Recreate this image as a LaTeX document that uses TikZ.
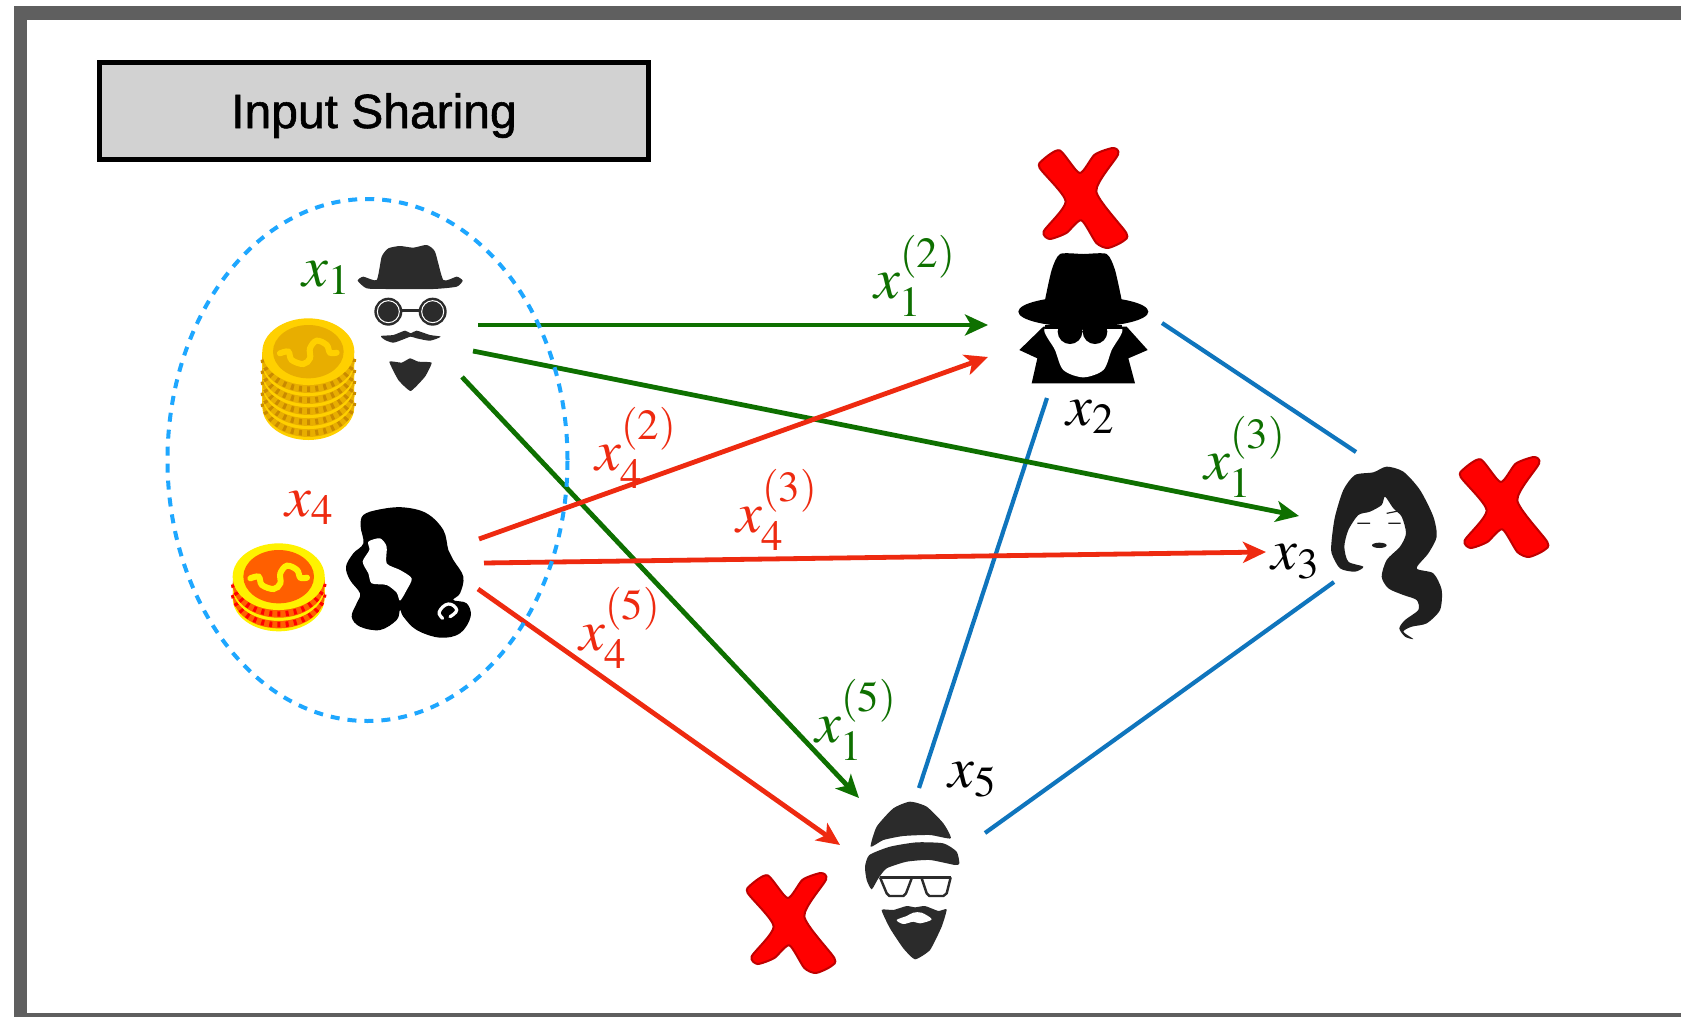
\documentclass[tikz,border=0pt]{standalone}
\usepackage{mathptmx}
\usepackage{fontspec}
\newfontfamily\titlefont[FakeBold=1.2]{Liberation Sans}
\usetikzlibrary{positioning, shapes.geometric, arrows.meta}
\definecolor{sharegreen}{HTML}{0E7000}
\definecolor{sharered}{HTML}{EE2A10}
\definecolor{linkblue}{HTML}{0F75BD}
\definecolor{ringblue}{HTML}{1EA7FF}
\definecolor{framegray}{HTML}{5F5F5F}
\definecolor{titlegray}{HTML}{D2D2D2}
\definecolor{darkfig}{HTML}{2B2B2B}
\definecolor{crossrim}{HTML}{C00000}
\definecolor{goldrim}{HTML}{FFD000}
\definecolor{goldface}{HTML}{E8AE00}
\definecolor{goldstripe}{HTML}{C98A00}
\definecolor{redface}{HTML}{FF5F00}
\tikzset{
    fine/.style={x=0.16667pt, y=-0.16667pt},
    title/.style={rectangle, draw=black, fill=titlegray, line width=2.5pt, minimum width=274.5pt, minimum height=48.5pt, text height=17pt, text depth=0pt, font=\titlefont\fontsize{24}{28}\selectfont},
    party/.style={inner sep=0pt, font=\fontsize{29}{32}\selectfont},
    greentext/.style={party, text=sharegreen},
    redtext/.style={party, text=sharered},
    blacktext/.style={party, text=black},
    greenarrow/.style={draw=sharegreen, line width=2.4pt, -{Stealth[length=11.5pt, width=10.5pt, inset=3pt]}},
    redarrow/.style={draw=sharered, line width=2.4pt, -{Stealth[length=11.5pt, width=10.5pt, inset=3pt]}},
    bluelink/.style={draw=linkblue, line width=2.1pt},
    honest/.style={ellipse, draw=ringblue, line width=2pt, dash pattern=on 4.5pt off 4pt, minimum width=200pt, minimum height=261pt, inner sep=0pt},
    redcross/.pic={
        \draw[fine, fill=red, draw=crossrim, line width=1pt, line join=round] plot[smooth cycle, tension=0.4] coordinates {
            (62,7) (122,75) (167,20) (222,0) (237,20) (172,130) (262,255) (252,280)
            (207,300) (172,285) (127,217) (82,255) (32,273) (14,250) (80,160) (2,60) (12,35)};
    },
}
% stack of coins: centre x, centre y, layers, step, rim, face, side, stripe
\newcommand{\coinstack}[8]{
    \foreach \i in {#3} {
        \pgfmathsetmacro{\yy}{#2+\i*#4}
        \fill[#5] (#1-138,\yy) rectangle (#1+138,\yy+#4);
        \fill[#5] (#1,\yy+#4) ellipse [x radius=138, y radius=100];
        \fill[#7] (#1,\yy+#4*0.72) ellipse [x radius=138, y radius=100];
        \draw[#8, line width=#4*0.085pt, dash pattern=on 1.5pt off 2.6pt] plot[domain=5:175, samples=30] ({#1+136*cos(\x)},{\yy+#4*0.38+100*sin(\x)});
        \fill[#5] (#1,\yy) ellipse [x radius=138, y radius=100];
    }
    \fill[#6] (#1,#2) ellipse [x radius=106, y radius=80];
    \draw[#5, line width=3pt, line cap=round] plot[smooth, tension=0.6] coordinates {
        (#1-85,#2+5) (#1-60,#2) (#1-50,#2+25) (#1-15,#2+37) (#1+5,#2+20) (#1+5,#2-10) (#1+25,#2-33) (#1+55,#2-20) (#1+65,#2+3) (#1+85,#2+3)};
}
\begin{document}
\begin{tikzpicture}[x=0.5pt, y=-0.5pt]
    \useasboundingbox (0,0) rectangle (1681,1017);
    \fill[white] (0,0) rectangle (1681,1017);
    \fill[framegray] (14,6) rectangle (1681,1017);
    \fill[white] (27,20) rectangle (1681,1013);

    \node [title] (head) at (374,111) {Input Sharing};

    % first party with coins
    \begin{scope}[shift={(200,220)}, fine]
        \coinstack{325}{395}{4,3,2,1,0}{33}{goldrim}{goldface}{goldface}{goldstripe}
        \fill[darkfig] plot[smooth cycle, tension=0.35] coordinates {
            (473,182) (490,170) (530,180) (545,110) (565,85) (600,78) (640,83) (680,75) (705,95)
            (730,180) (770,170) (788,182) (770,200) (700,207) (560,207) (500,205)};
        \fill[darkfig] (565,275) circle [radius=42] (698,275) circle [radius=42];
        \draw[darkfig, line width=1.3pt] (605,272) -- (660,272);
        \draw[white, line width=0.5pt] (565,275) circle [radius=33] (698,275) circle [radius=33];
        \fill[darkfig] plot[smooth cycle, tension=0.4] coordinates {
            (543,348) (580,345) (615,332) (632,340) (650,332) (690,345) (722,350) (690,362)
            (650,355) (632,350) (610,358) (580,368) (555,360)};
        \fill[darkfig] plot[smooth cycle, tension=0.25] coordinates {
            (568,425) (605,428) (630,415) (655,425) (695,428) (675,470) (632,513) (595,480)};
    \end{scope}

    % second party with coins
    \begin{scope}[shift={(200,470)}, fine]
        \coinstack{236}{320}{1,0}{32}{yellow}{redface}{redface}{red}
        \fill[black] plot[smooth cycle, tension=0.6] coordinates {
            (490,135) (540,118) (610,112) (680,130) (730,180) (745,240) (760,270) (790,320)
            (780,370) (760,390) (800,400) (812,440) (780,490) (720,503) (650,480) (610,440)
            (600,420) (590,450) (540,480) (480,470) (455,440) (470,400) (480,370) (450,330)
            (438,290) (460,250) (490,220) (482,170)};
        \fill[white] plot[smooth cycle, tension=0.45] coordinates {
            (505,215) (540,205) (560,230) (560,280) (600,300) (635,325) (620,360) (600,392)
            (590,368) (560,345) (515,340) (505,310) (488,275) (508,240)};
        \draw[white, line width=1.6pt, line cap=round] plot[smooth, tension=0.8] coordinates {
            (728,445) (718,425) (745,402) (770,420) (750,440)};
    \end{scope}

    % party two
    \begin{scope}[shift={(980,130)}, fine]
        \fill[black] (190,590) -- (118,660) -- (172,685) -- (155,760) -- (465,760) -- (445,685) -- (503,660) -- (440,590) -- cycle;
        \fill[black] plot[smooth, tension=0.4] coordinates {(195,510) (215,420) (240,372) (310,372) (380,372) (405,420) (425,510)} -- cycle;
        \fill[black] (310,545) ellipse [x radius=195, y radius=46];
        \fill[white] plot[smooth cycle, tension=0.5] coordinates {
            (195,595) (310,600) (425,595) (395,660) (370,720) (310,742) (250,720) (225,660)};
        \fill[black] (270,605) circle [radius=37] (345,605) circle [radius=37];
        \fill[black] (195,585) rectangle (425,597);
    \end{scope}

    % party three
    \begin{scope}[shift={(1280,440)}, fine]
        \fill[black!88] plot[smooth cycle, tension=0.45] coordinates {
            (155,300) (165,230) (190,150) (225,105) (280,97) (320,80) (370,95) (420,150)
            (460,230) (470,290) (445,340) (410,385) (460,400) (485,450) (480,510) (440,550)
            (395,560) (370,575) (400,597) (375,590) (358,565) (375,540) (415,510) (410,480)
            (370,465) (325,445) (305,410) (320,360) (360,320) (378,280) (365,230) (340,205)
            (315,170) (305,195) (270,215) (235,225) (205,270) (193,320) (205,365) (250,380)
            (225,395) (180,385) (155,340)};
        \draw[black!88, line width=0.6pt] (232,250) -- (270,250) (325,250) -- (362,250) (320,220) -- (355,213);
        \fill[black!88] (298,316) ellipse [x radius=22, y radius=8];
    \end{scope}

    % party five
    \begin{scope}[shift={(730,780)}, fine]
        \fill[darkfig] plot[smooth cycle, tension=0.35] coordinates {
            (422,200) (440,140) (490,85) (540,65) (590,80) (640,130) (662,175) (600,165) (520,168) (460,180)};
        \fill[darkfig] plot[smooth cycle, tension=0.35] coordinates {
            (405,260) (418,225) (480,200) (560,187) (640,190) (680,215) (688,250) (675,255)
            (600,240) (530,245) (470,265) (445,295) (425,328) (410,300)};
        \draw[darkfig, line width=1.8pt] (450,292) -- (662,292);
        \draw[darkfig, line width=1.2pt, line join=round]
            (450,292) -- (470,340) -- (478,348) -- (520,348) -- (528,340) -- (545,295)
            (575,295) -- (590,340) -- (598,348) -- (640,348) -- (650,340) -- (662,292);
        \fill[darkfig] plot[smooth cycle, tension=0.3] coordinates {
            (455,390) (490,390) (530,378) (555,382) (585,378) (625,393) (650,388) (635,440)
            (600,510) (555,538) (520,505) (480,445)};
        \fill[white] plot[smooth cycle, tension=0.5] coordinates {
            (500,420) (530,408) (550,398) (575,398) (605,418) (570,430) (550,425) (520,432)};
    \end{scope}

    \pic at (1039,148) {redcross};
    \pic at (1460,457) {redcross};
    \pic at (747,873) {redcross};

    \node [greentext] (xone) at (327,278) {$x_1$};
    \node [redtext] (xfour) at (310,508) {$x_4$};
    \node [blacktext] (xtwo) at (1091,417) {$x_2$};
    \node [blacktext] (xthree) at (1296,562) {$x_3$};
    \node [blacktext] (xfive) at (973,780) {$x_5$};
    \node [greentext] (onetwo) at (915,276) {$x_1^{(2)}$};
    \node [greentext] (onethree) at (1245,457) {$x_1^{(3)}$};
    \node [greentext] (onefive) at (856,720) {$x_1^{(5)}$};
    \node [redtext] (fourtwo) at (636,448) {$x_4^{(2)}$};
    \node [redtext] (fourthree) at (777,510) {$x_4^{(3)}$};
    \node [redtext] (fourfive) at (620,628) {$x_4^{(5)}$};

    \coordinate (ga) at (478,325);
    \coordinate (gb) at (473,351);
    \coordinate (gc) at (462,377);
    \coordinate (ra) at (479,539);
    \coordinate (rb) at (484,563);
    \coordinate (rc) at (478,589);
    \coordinate (twoin) at (988,325);
    \coordinate (twored) at (988,357);
    \coordinate (threein) at (1299,516);
    \coordinate (threered) at (1266,552);
    \coordinate (fivein) at (859,798);
    \coordinate (fivered) at (840,845);
    \coordinate (twoout) at (1162,323);
    \coordinate (threetop) at (1356,452);
    \coordinate (twodown) at (1047,398);
    \coordinate (fivetop) at (919,788);
    \coordinate (threelow) at (1334,582);
    \coordinate (fiveout) at (985,833);

    \draw[bluelink] (twoout) -- (threetop);
    \draw[bluelink] (twodown) -- (fivetop);
    \draw[bluelink] (threelow) -- (fiveout);
    \draw[greenarrow] (ga) -- (twoin);
    \draw[greenarrow] (gb) -- (threein);
    \draw[greenarrow] (gc) -- (fivein);
    \draw[redarrow] (ra) -- (twored);
    \draw[redarrow] (rb) -- (threered);
    \draw[redarrow] (rc) -- (fivered);

    \node [honest] (dealers) at (367.5,460) {};
\end{tikzpicture}
\end{document}
